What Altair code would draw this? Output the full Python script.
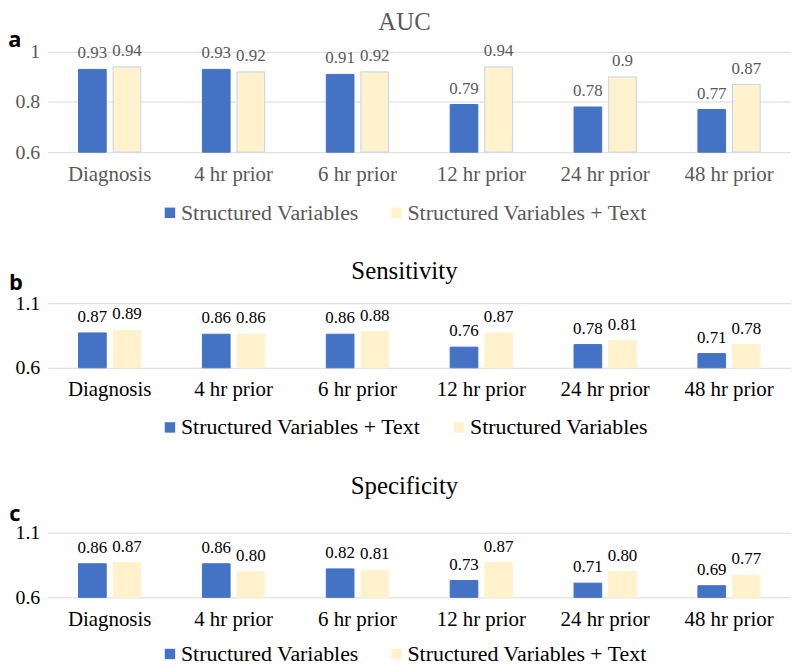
import altair as alt
import pandas as pd

categories = ["Diagnosis", "4 hr prior", "6 hr prior", "12 hr prior", "24 hr prior", "48 hr prior"]

auc_series = ["Structured Variables", "Structured Variables + Text"]
auc_structured = [0.93, 0.93, 0.91, 0.79, 0.78, 0.77]
auc_text = [0.94, 0.92, 0.92, 0.94, 0.90, 0.87]

sens_series = ["Structured Variables + Text", "Structured Variables"]
sens_blue = [0.87, 0.86, 0.86, 0.76, 0.78, 0.71]
sens_beige = [0.89, 0.86, 0.88, 0.87, 0.81, 0.78]

spec_series = ["Structured Variables", "Structured Variables + Text"]
spec_structured = [0.86, 0.86, 0.82, 0.73, 0.71, 0.69]
spec_text = [0.87, 0.80, 0.81, 0.87, 0.80, 0.77]

BLUE = "#4472C4"
BEIGE = "#FFF2CC"
SERIF = "Liberation Serif"


def make_df(series, first, second, fmt):
    rows = []
    for i, c in enumerate(categories):
        rows.append({"category": c, "series": series[0], "value": first[i], "label": fmt(first[i])})
        rows.append({"category": c, "series": series[1], "value": second[i], "label": fmt(second[i])})
    return pd.DataFrame(rows)


def panel(df, order, title, ydomain, yticks, yfmt, height, color, beige_stroke,
          letter, letter_x, letter_y, legend_y, title_offset):
    base = alt.Chart(df)
    x = alt.X("category:N", sort=categories,
              scale=alt.Scale(paddingInner=0, paddingOuter=0),
              axis=alt.Axis(title=None, labelAngle=0, labelFont=SERIF, labelFontSize=21,
                            labelColor=color, ticks=False, domain=False, grid=False,
                            labelPadding=11))
    xo = alt.XOffset("series:N", sort=order,
                     scale=alt.Scale(domain=order, paddingInner=0.2, paddingOuter=0.89))
    y = alt.Y("value:Q", stack=None,
              scale=alt.Scale(domain=ydomain, nice=False, zero=False),
              axis=alt.Axis(values=yticks, format=yfmt, title=None, grid=True,
                            gridColor="#d9d9d9", gridWidth=1, domain=False, ticks=False,
                            labelFont=SERIF, labelFontSize=20, labelColor=color,
                            labelPadding=8))
    bars = base.mark_bar(strokeWidth=1).encode(
        x=x, xOffset=xo, y=y, y2=alt.datum(ydomain[0]),
        color=alt.Color("series:N", sort=order,
                        scale=alt.Scale(domain=order, range=[BLUE, BEIGE]),
                        legend=alt.Legend(orient="none", legendX=112, legendY=legend_y,
                                          direction="horizontal", title=None,
                                          symbolType="square", symbolSize=110,
                                          symbolStrokeWidth=0, labelFont=SERIF,
                                          labelFontSize=22, labelColor=color,
                                          labelOffset=0, columnPadding=27,
                                          labelLimit=400)),
        stroke=alt.condition(alt.datum.series == order[1], alt.value(beige_stroke),
                             alt.value(BLUE)),
    )
    labels = base.mark_text(baseline="alphabetic", dy=-11, font=SERIF, fontSize=17,
                            color=color).encode(x=x, xOffset=xo, y=y, text="label:N")
    tag = alt.Chart(pd.DataFrame({"t": [letter]})).mark_text(
        font="Open Sans", fontWeight="bold", fontSize=22, color="black",
        align="center", baseline="alphabetic").encode(
        text="t:N", x=alt.value(letter_x), y=alt.value(letter_y))
    return alt.layer(bars, labels, tag).properties(
        width=748, height=height,
        title=alt.TitleParams(title, font=SERIF, fontSize=25, fontWeight="normal",
                              color=color, anchor="middle", offset=title_offset, dx=-15),
    )


auc_df = make_df(auc_series, auc_structured, auc_text, lambda v: f"{v:g}")
sens_df = make_df(sens_series, sens_blue, sens_beige, lambda v: f"{v:.2f}")
spec_df = make_df(spec_series, spec_structured, spec_text, lambda v: f"{v:.2f}")

pa = panel(auc_df, auc_series, "AUC", [0.6, 1.0], [0.6, 0.8, 1.0], "~g", 101,
           "#595959", "#c5d3ea", "a", -33, -5, 151, -6)
pb = panel(sens_df, sens_series, "Sensitivity", [0.6, 1.1], [0.6, 1.1], ".1f", 65,
           "black", BEIGE, "b", -32, -13, 114, -12)
pc = panel(spec_df, spec_series, "Specificity", [0.6, 1.1], [0.6, 1.1], ".1f", 65,
           "black", BEIGE, "c", -33, -12, 111, 4)

chart = alt.vconcat(pa, pb, pc, spacing=36).resolve_scale(
    color="independent", xOffset="independent", y="independent", x="independent"
).properties(
    padding={"left": 0, "top": 0, "right": 0, "bottom": 0}
).configure(background="white").configure_view(stroke=None)

chart.save("out.html", embed_options={"renderer": "svg", "actions": False})
